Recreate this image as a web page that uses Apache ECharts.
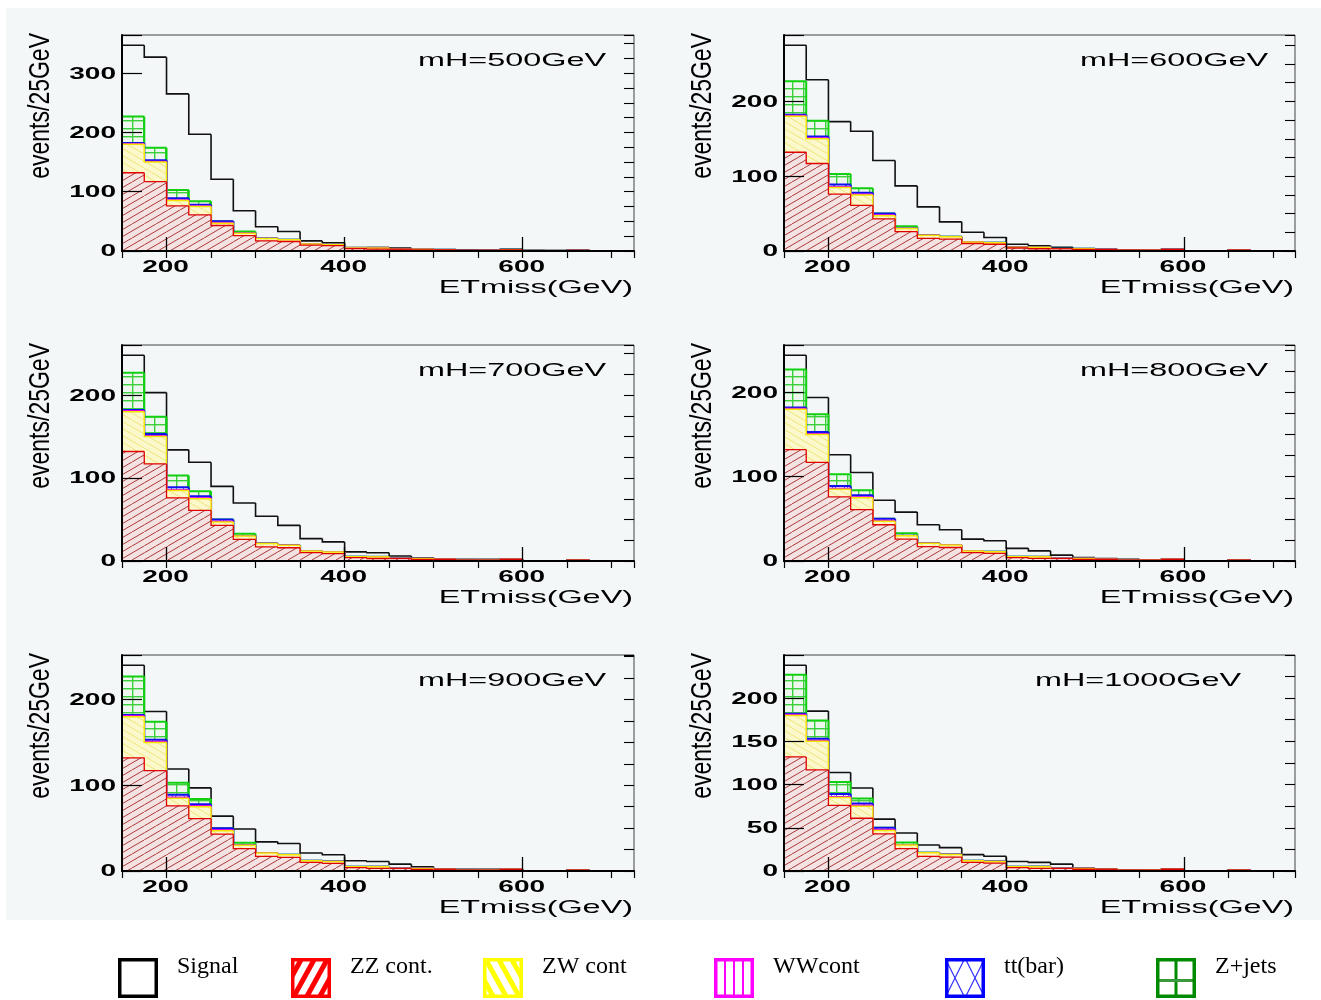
<!DOCTYPE html>
<html><head><meta charset="utf-8">
<script src="https://cdn.jsdelivr.net/npm/echarts@6/dist/echarts.min.js"></script>
<style>html,body{margin:0;padding:0;background:#fff;}#chart{width:1321px;height:1000px;}</style>
</head><body><div id="chart"></div>
<script>
// ---------------- data ----------------
const binStarts = [150,175,200,225,250,275,300,325,350,375,400,425,450,475,500,525,550,575,600,625,650,675,700];
const binWidth = 25;
const xMin = 150, xMax = 725;
const xTickLabels = [200, 400, 600];

// backgrounds (events / 25 GeV, per component, stacked bottom -> top)
const zzCont = [132,117,76,61,43,26,17,16,10,9,4,3,3,2,2,1,1,2,0,0,1,0,0];
const zwCont = [48,33,9,14,4,4,4,3,2,2,1,2,0,1,0,0,0,0,0,0,0,0,0];
const wwCont = [1,1,1,1,1,0,0,0,0,0,0,0,0,0,0,0,0,0,0,0,0,0,0];
const ttbar  = [1,2,3,2,2,0,0,0,0,0,0,0,0,0,0,0,0,0,0,0,0,0,0];
const zJets  = [45,21,14,6,0,3,0,0,0,0,0,0,0,0,0,0,0,0,0,0,0,0,0];

// signal on top of the stack, one per Higgs mass
const sig500  = [120,153,162,113,71,35,20,14,5,3,1,1,2,0,0,1,1,1,1,1,0,0,0];
const sig600  = [48,55,70,76,71,54,38,20,13,7,4,2,2,0,0,0,0,0,0,0,0,0,0];
const sig700  = [21,29,31,35,40,37,33,24,15,12,6,5,3,1,0,1,1,0,0,0,0,0,0];
const sig800  = [17,20,23,21,22,25,22,18,14,13,10,7,4,1,1,1,0,0,0,0,0,0,0];
const sig900  = [13,12,16,13,14,16,13,13,9,8,7,6,5,2,0,1,1,0,0,0,0,0,0];
const sig1000 = [11,11,11,12,10,11,9,8,7,6,6,5,5,0,0,0,0,0,0,0,0,0,0];

const massLabels = ['mH=500GeV','mH=600GeV','mH=700GeV','mH=800GeV','mH=900GeV','mH=1000GeV'];
const signals = [sig500, sig600, sig700, sig800, sig900, sig1000];
const yIntervals = [100,100,100,100,100,50];
const legendNames = ['Signal','ZZ cont.','ZW cont','WWcont','tt(bar)','Z+jets'];
const xTitle = 'ETmiss(GeV)';
const yTitle = 'events/25GeV';

// ---------------- layout ----------------
const colLeft = [122, 784], colWidth = [512, 511];
const rowTop = [35, 345, 655], plotH = 216;
const massLabelLeft = [418, 1080, 418, 1080, 418, 1035];
const yTitleX = [41, 703];
const legendLefts = [118, 291, 483, 714, 945, 1156];
const STRETCH = 1.75;
const FONT = 'Liberation Sans';

// ---------------- patterns ----------------
function makeCanvas(w, h, bg, draw) {
  const c = document.createElement('canvas'); c.width = w; c.height = h;
  const ctx = c.getContext('2d');
  if (bg) { ctx.fillStyle = bg; ctx.fillRect(0, 0, w, h); }
  if (draw) draw(ctx, w, h);
  return c;
}
const patRed = makeCanvas(24, 14, '#f5e2e2', (ctx, w, h) => {
  ctx.strokeStyle = '#a83a3a'; ctx.lineWidth = 1;
  for (let k = -2; k <= 2; k++) { ctx.beginPath(); ctx.moveTo(k*12, h); ctx.lineTo(k*12 + w, 0); ctx.stroke(); }
});
const patYellow = makeCanvas(24, 14, '#fbf8cc', (ctx, w, h) => {
  ctx.strokeStyle = '#efe67a'; ctx.lineWidth = 1;
  for (let k = -2; k <= 2; k++) { ctx.beginPath(); ctx.moveTo(k*12, 0); ctx.lineTo(k*12 + w, h); ctx.stroke(); }
});
const patMag = makeCanvas(6, 6, '#f8e4f8', (ctx) => { ctx.fillStyle = '#e050e0'; ctx.fillRect(0, 0, 1, 6); });
const patBlue = makeCanvas(12, 12, '#e6e6f8', (ctx, w, h) => {
  ctx.strokeStyle = '#5050f0'; ctx.lineWidth = 1;
  ctx.beginPath(); ctx.moveTo(0, 0); ctx.lineTo(w, h); ctx.moveTo(w, 0); ctx.lineTo(0, h); ctx.stroke();
});
const patGreen = makeCanvas(11, 8, '#eef7ee', (ctx) => {
  ctx.fillStyle = '#3ccf3c'; ctx.fillRect(0, 0, 11, 1.4); ctx.fillRect(0, 0, 1.4, 8);
});
const pat = c => ({ image: c, repeat: 'repeat' });

// ---------------- legend icons ----------------
function makeIcon(color, draw) {
  const c = makeCanvas(40, 40, '#ffffff', null);
  const ctx = c.getContext('2d');
  ctx.save(); ctx.beginPath(); ctx.rect(0, 0, 40, 40); ctx.clip();
  if (draw) draw(ctx);
  ctx.restore();
  ctx.strokeStyle = color; ctx.lineWidth = 3.5; ctx.strokeRect(1.75, 1.75, 36.5, 36.5);
  return 'image://' + c.toDataURL();
}
const legendIcons = [
  makeIcon('#000000', null),
  makeIcon('#ff0000', ctx => { ctx.strokeStyle = '#ff0000'; ctx.lineWidth = 5;
    for (let x = -24; x <= 44; x += 13) { ctx.beginPath(); ctx.moveTo(x, 40); ctx.lineTo(x + 22, 0); ctx.stroke(); } }),
  makeIcon('#ffff00', ctx => { ctx.strokeStyle = '#ffff00'; ctx.lineWidth = 5;
    for (let x = -24; x <= 44; x += 13) { ctx.beginPath(); ctx.moveTo(x, 0); ctx.lineTo(x + 22, 40); ctx.stroke(); } }),
  makeIcon('#ff00ff', ctx => { ctx.fillStyle = '#ff00ff'; [10, 19, 28].forEach(x => ctx.fillRect(x, 0, 2, 40)); }),
  makeIcon('#0000ff', ctx => { ctx.strokeStyle = '#3030ff'; ctx.lineWidth = 1.2;
    for (let x = -20; x <= 40; x += 20) { ctx.beginPath(); ctx.moveTo(x, 0); ctx.lineTo(x + 20, 40); ctx.moveTo(x + 20, 0); ctx.lineTo(x, 40); ctx.stroke(); } }),
  makeIcon('#008a00', ctx => { ctx.fillStyle = '#008a00'; ctx.fillRect(18.5, 0, 3, 40); ctx.fillStyle = '#3a9a3a'; ctx.fillRect(0, 21, 40, 3); })
];

// ---------------- build option ----------------
const grids = [], xAxes = [], yAxes = [], series = [];
const yMaxes = [];

function makeRender(fill, stroke, lw) {
  return function (params, api) {
    const lo = api.value(0), hi = api.value(1), base = api.value(2), top = api.value(3), prev = api.value(4);
    const p0 = api.coord([lo, base]);
    const p1 = api.coord([hi, top]);
    const pp = api.coord([lo, prev]);
    const children = [];
    if (fill && top > base) {
      children.push({ type: 'rect', shape: { x: p0[0], y: p1[1], width: p1[0] - p0[0], height: p0[1] - p1[1] },
        style: { fill: fill, stroke: null } });
    }
    children.push({ type: 'polyline', shape: { points: [[p0[0], pp[1]], [p0[0], p1[1]], [p1[0], p1[1]]] },
      style: { stroke: stroke, lineWidth: lw, fill: null } });
    return { type: 'group', children: children };
  };
}

for (let i = 0; i < 6; i++) {
  const row = Math.floor(i / 2), col = i % 2;
  grids.push({ left: colLeft[col], top: rowTop[row], width: colWidth[col], height: plotH,
    show: true, borderColor: '#444', borderWidth: 1, backgroundColor: 'transparent' });

  // stack: bottom -> top
  const stack = [
    { name: 'ZZ cont.', v: zzCont,  fill: pat(patRed),    stroke: '#e00000', lw: 1.3 },
    { name: 'ZW cont',  v: zwCont,  fill: pat(patYellow), stroke: '#f2e600', lw: 1.5 },
    { name: 'WWcont',   v: wwCont,  fill: pat(patMag),    stroke: '#e000e0', lw: 1.5 },
    { name: 'tt(bar)',  v: ttbar,   fill: pat(patBlue),   stroke: '#1010f0', lw: 2 },
    { name: 'Z+jets',   v: zJets,   fill: pat(patGreen),  stroke: '#10d010', lw: 2 },
    { name: 'Signal',   v: signals[i], fill: null,        stroke: '#111111', lw: 1.6 }
  ];
  const cum = binStarts.map(() => 0);
  const built = stack.map(c => {
    const data = [];
    let prevTop = 0;
    binStarts.forEach((b, j) => {
      const base = cum[j], top = base + c.v[j];
      data.push([b, b + binWidth, base, top, prevTop]);
      prevTop = top; cum[j] = top;
    });
    return { c, data };
  });
  const yMax = 1.05 * Math.max.apply(null, cum);
  yMaxes.push(yMax);

  xAxes.push({ type: 'value', gridIndex: i, min: xMin, max: xMax, z: 5,
    axisLine: { show: true, onZero: false, lineStyle: { color: '#000', width: 2 } },
    axisTick: { show: true, inside: true, length: 14, customValues: xTickLabels, lineStyle: { color: '#000', width: 1.3 } },
    axisLabel: { show: false }, splitLine: { show: false } });
  xAxes.push({ type: 'value', gridIndex: i, min: xMin, max: xMax, interval: 50, z: 5,
    axisLine: { show: false },
    axisTick: { show: true, inside: true, length: 7, lineStyle: { color: '#000', width: 1.2 } },
    axisLabel: { show: false }, splitLine: { show: false } });
  yAxes.push({ type: 'value', gridIndex: i, min: 0, max: yMax, interval: yIntervals[i], z: 5,
    axisLine: { show: true, onZero: false, lineStyle: { color: '#000', width: 2 } },
    axisTick: { show: true, inside: true, length: 20, lineStyle: { color: '#000', width: 1.2 } },
    axisLabel: { show: false }, splitLine: { show: false } });
  yAxes.push({ type: 'value', gridIndex: i, min: 0, max: yMax, interval: 25, z: 5,
    axisLine: { show: false },
    axisTick: { show: true, inside: true, length: 10, lineStyle: { color: '#000', width: 1.1 } },
    axisLabel: { show: false }, splitLine: { show: false } });

  // ROOT draws the outer (total) histogram first, then lower ones over it
  built.slice().reverse().forEach(({ c, data }) => {
    series.push({ type: 'custom', name: c.name, xAxisIndex: 2 * i, yAxisIndex: 2 * i,
      clip: true, silent: true, renderItem: makeRender(c.fill, c.stroke, c.lw), data: data });
  });
}

const legends = legendNames.map((n, k) => ({
  data: [{ name: n, icon: legendIcons[k] }], left: legendLefts[k], top: 955,
  itemWidth: 40, itemHeight: 40, padding: 0, itemGap: 0, selectedMode: false,
  formatter: name => name + '\n\u00a0',
  textStyle: { fontFamily: 'Liberation Serif', fontSize: 24, lineHeight: 22, color: '#000', padding: [0, 0, 0, 14] }
}));

const bgRect = { type: 'rect', id: 'bg', z: -10, silent: true,
  shape: { x: 6, y: 8, width: 1315, height: 912 }, style: { fill: '#f3f7f7' } };

const chart = echarts.init(document.getElementById('chart'), null, { renderer: 'canvas' });
chart.setOption({
  animation: false, backgroundColor: '#ffffff',
  grid: grids, xAxis: xAxes, yAxis: yAxes, series: series, legend: legends,
  graphic: { elements: [bgRect] }
});

// ---------------- texts (stretched like the original ROOT output) ----------------
const texts = [];
function txt(x, y, s, opts) {
  texts.push(Object.assign({ type: 'text', x: x, y: y, z: 100, silent: true, scaleX: STRETCH,
    style: Object.assign({ text: s, fontFamily: FONT, fontSize: 18.5, fill: '#000', align: 'left', verticalAlign: 'middle' }, opts.style || {}) },
    opts.el || {}));
}
for (let i = 0; i < 6; i++) {
  const row = Math.floor(i / 2), col = i % 2;
  const left = colLeft[col], right = colLeft[col] + colWidth[col];
  const bottom = chart.convertToPixel({ yAxisIndex: 2 * i }, 0);
  xTickLabels.forEach(v => {
    const px = chart.convertToPixel({ xAxisIndex: 2 * i }, v);
    txt(px - 1, bottom + 17, String(v), { style: { fontWeight: 'bold', fontSize: 16, align: 'center' } });
  });
  for (let v = 0; v <= yMaxes[i] + 1e-6; v += yIntervals[i]) {
    const py = chart.convertToPixel({ yAxisIndex: 2 * i }, v);
    txt(left - 6, py + 1, String(v), { style: { fontWeight: 'bold', fontSize: 16, align: 'right' } });
  }
  txt(right - 1, bottom + 37, xTitle, { style: { align: 'right' } });
  txt(massLabelLeft[i], rowTop[row] + 26, massLabels[i], { style: { align: 'left' } });
  txt(yTitleX[col], rowTop[row] - 2, yTitle, { el: { rotation: Math.PI / 2, scaleX: 1, scaleY: 1.3 },
    style: { fontSize: 23, align: 'right' } });
}
chart.setOption({ graphic: { elements: [bgRect].concat(texts) } });
</script></body></html>
